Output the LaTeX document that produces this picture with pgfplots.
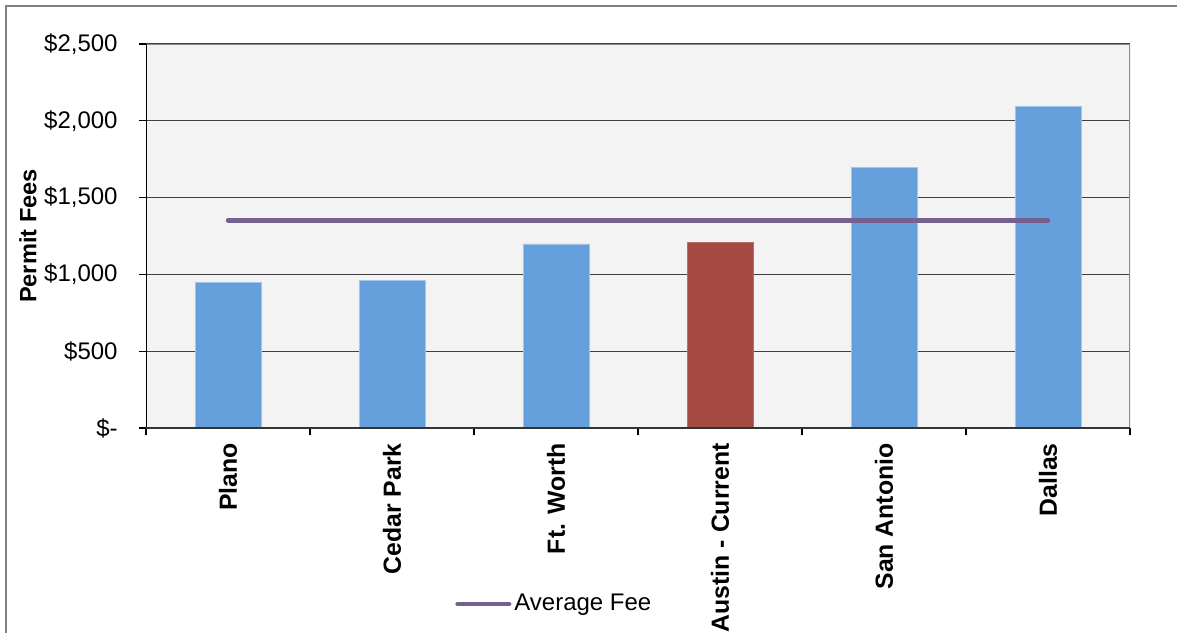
\documentclass[border=0pt]{standalone}
\usepackage{pgfplots}
\pgfplotsset{compat=1.18}
\usepackage{fontspec}
\setmainfont{Liberation Sans}
\definecolor{barblue}{RGB}{101,159,220}
\definecolor{barred}{RGB}{164,74,66}
\definecolor{avgpurple}{RGB}{118,96,143}
\definecolor{plotbg}{RGB}{243,243,243}
\begin{document}
\begin{tikzpicture}
\useasboundingbox (0,0) rectangle (588.5pt,316.5pt);
\draw[black!50, line width=1pt] (3pt,0) -- (3pt,313.5pt) -- (588.5pt,313.5pt);
\begin{axis}[
  at={(73pt,102.5pt)}, anchor=south west,
  scale only axis, width=492pt, height=192pt,
  xmin=-0.5, xmax=5.5, ymin=0, ymax=2500,
  axis background/.style={fill=plotbg},
  axis line style={draw=none},
  ytick={0,500,...,2500},
  yticklabels={{\$-\hspace{6.5pt}},{\$500},{\$1,000},{\$1,500},{\$2,000},{\$2,500}},
  xtick={0,...,5},
  xticklabels={Plano,Cedar Park,Ft. Worth,Austin - Current,San Antonio,Dallas},
  minor xtick={-0.5,0.5,...,5.5},
  xtick pos=bottom, ytick pos=left,
  tick align=outside,
  major tick length=3.5pt, minor tick length=3.5pt,
  tick style={black, line width=0.6pt},
  major x tick style={draw=none},
  ymajorgrids,
  grid style={black!75, line width=0.6pt},
  ticklabel style={font=\fontsize{12}{14}\selectfont},
  yticklabel style={anchor=east, inner sep=0pt, xshift=-10.5pt},
  xticklabel style={rotate=90, anchor=east, inner sep=0pt, yshift=0pt, xshift=-4pt, font=\fontsize{12.4}{14}\selectfont\bfseries},
  ylabel={Permit Fees},
  ylabel style={at={(rel axis cs:0,0.5)}, anchor=center, rotate=0, yshift=59pt, xshift=0pt, font=\fontsize{11.8}{14}\selectfont\bfseries},
  legend style={at={(0.314,-0.458)}, anchor=west, draw=none, fill=none, inner sep=0pt,
    font=\fontsize{12}{14}\selectfont, legend cell align=left,
    nodes={inner xsep=1.5pt}},
  legend image code/.code={\draw[#1, line width=2pt, line cap=round] (0pt,0pt) -- (26pt,0pt);},
]
\addplot[ybar, bar width=33pt, bar shift=0pt, fill=barblue, draw=barblue!60!white, forget plot]
  coordinates {(0,945) (1,963) (2,1198) (4,1699) (5,2094)};
\addplot[ybar, bar width=33pt, bar shift=0pt, fill=barred, draw=barred!80!white, forget plot]
  coordinates {(3,1211)};
\addplot[avgpurple, line width=2.2pt, line cap=round, mark=none]
  coordinates {(0,1352) (1,1352) (2,1352) (3,1352) (4,1352) (5,1352)};
\addlegendentry{Average Fee}
\draw[black!45, line width=1pt] (rel axis cs:0,1) -- (rel axis cs:1,1) -- (rel axis cs:1,0);
\draw[black, line width=0.6pt] (rel axis cs:0,0) -- (rel axis cs:0,1);
\draw[black!80, line width=0.6pt] (rel axis cs:0,0) -- (rel axis cs:1,0);
\end{axis}
\end{tikzpicture}
\end{document}
